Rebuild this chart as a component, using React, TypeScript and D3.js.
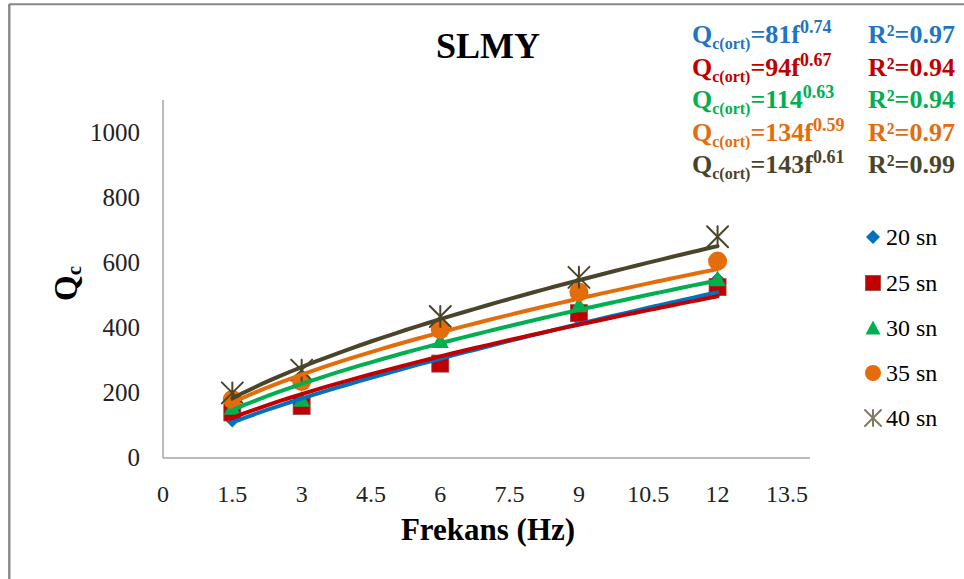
import React from "react";
import * as d3 from "d3";

const frequencies = [1.5, 3, 6, 9, 12];
const seriesNames = ["20 sn", "25 sn", "30 sn", "35 sn", "40 sn"];
const s20 = [115, 170, 285, 425, 550];
const s25 = [140, 160, 290, 445, 525];
const s30 = [155, 180, 360, 470, 550];
const s35 = [180, 235, 395, 510, 605];
const s40 = [200, 270, 435, 555, 680];
const seriesValues = [s20, s25, s30, s35, s40];
const fitCoef = [81, 94, 114, 134, 143];
const fitExp = [0.74, 0.67, 0.63, 0.59, 0.61];
const eqMain = ["=81f", "=94f", "=114", "=134f", "=143f"];
const eqExp = ["0.74", "0.67", "0.63", "0.59", "0.61"];
const r2Labels = ["R²=0.97", "R²=0.94", "R²=0.94", "R²=0.97", "R²=0.99"];
const xTicks = [0, 1.5, 3, 4.5, 6, 7.5, 9, 10.5, 12, 13.5];
const yTicks = [0, 200, 400, 600, 800, 1000];

const colors = ["#0070C0", "#C00000", "#00B050", "#E46C0A", "#4A452A"];
const textColors = ["#1F74C4", "#C00000", "#00B050", "#E46C0A", "#4A452A"];
const shapes = ["diamond", "square", "triangle", "circle", "star"];

const FONT = '"Liberation Serif", "DejaVu Serif", serif';

function Marker({ shape, x, y, color, s }: { shape: string; x: number; y: number; color: string; s: number }) {
  if (shape === "diamond") {
    const h = s / 2;
    return <path d={`M${x},${y - h}L${x + h},${y}L${x},${y + h}L${x - h},${y}Z`} fill={color} />;
  }
  if (shape === "square") {
    return <rect x={x - s / 2} y={y - s / 2} width={s} height={s} fill={color} stroke="#A04040" strokeWidth={0.8} />;
  }
  if (shape === "triangle") {
    const h = s / 2;
    return <path d={`M${x},${y - h}L${x + h},${y + h * 0.85}L${x - h},${y + h * 0.85}Z`} fill={color} />;
  }
  if (shape === "circle") {
    return <circle cx={x} cy={y} r={s / 2} fill={color} />;
  }
  const h = s / 2;
  return (
    <g stroke={color} strokeWidth={2} strokeLinecap="round">
      <line x1={x - h} y1={y - h} x2={x + h} y2={y + h} />
      <line x1={x - h} y1={y + h} x2={x + h} y2={y - h} />
      <line x1={x} y1={y - h} x2={x} y2={y + h} />
    </g>
  );
}

export default function App() {
  const W = 964;
  const H = 579;
  const x = d3.scaleLinear().domain([0, 14]).range([163, 810]);
  const y = d3.scaleLinear().domain([0, 1100]).range([458, 100]);

  const fitLine = d3
    .line<number>()
    .x((f) => x(f))
    .curve(d3.curveMonotoneX);

  const fGrid = d3.range(1.5, 12.0001, 0.25);

  const markerSizes = [14, 17, 17, 19, 21];
  const legendSizes = [14, 15, 15, 16, 16];
  const legendY = [237, 283, 328, 373, 418];
  const eqBase = [43, 75.5, 108, 140.5, 173];

  return (
    <div style={{ position: "absolute", left: 0, top: 0 }}>
      <svg width={W} height={H} style={{ display: "block", background: "#fff", fontFamily: FONT }}>
        <rect x={0} y={0} width={W} height={H} fill="#fff" />
        <line x1={9} y1={4.3} x2={W} y2={4.3} stroke="#888" strokeWidth={2} />
        <line x1={9.3} y1={4} x2={9.3} y2={H} stroke="#888" strokeWidth={2.4} />

        <text x={488} y={58} textAnchor="middle" fontSize={36} fontWeight="bold" fill="#000" style={{ fontFamily: FONT }}>
          SLMY
        </text>

        <line x1={x(0)} y1={y(1100)} x2={x(0)} y2={y(0)} stroke="#A6A6A6" strokeWidth={1.5} />
        <line x1={x(0)} y1={y(0)} x2={x(14)} y2={y(0)} stroke="#A6A6A6" strokeWidth={1.5} />

        {yTicks.map((t) => (
          <text key={t} x={140} y={y(t) + 8} textAnchor="end" fontSize={25} fill="#222" style={{ fontFamily: FONT }}>
            {t}
          </text>
        ))}
        {xTicks.map((t) => (
          <text key={t} x={x(t)} y={502} textAnchor="middle" fontSize={24} fill="#222" style={{ fontFamily: FONT }}>
            {t}
          </text>
        ))}

        <text x={488} y={540} textAnchor="middle" fontSize={31} fontWeight="bold" fill="#000" style={{ fontFamily: FONT }}>
          Frekans (Hz)
        </text>
        <text transform="translate(77,301) rotate(-90)" fontSize={33} fontWeight="bold" fill="#000" style={{ fontFamily: FONT }}>
          Q<tspan fontSize={21} dy={4}>c</tspan>
        </text>

        {seriesValues.map((vals, si) =>
          vals.map((v, i) => (
            <Marker key={`${si}-${i}`} shape={shapes[si]} x={x(frequencies[i])} y={y(v)} color={colors[si]} s={markerSizes[si]} />
          ))
        )}

        {fitCoef.map((a, si) => (
          <path
            key={`fit-${si}`}
            d={fitLine.y((f) => y(a * Math.pow(f, fitExp[si])))(fGrid) || ""}
            fill="none"
            stroke={colors[si]}
            strokeWidth={4}
            strokeLinecap="round"
          />
        ))}

        {seriesNames.map((n, si) => (
          <g key={n}>
            <Marker shape={shapes[si]} x={873} y={legendY[si]} color={si === 4 ? "#7F7A60" : colors[si]} s={legendSizes[si]} />
            <text x={886} y={legendY[si] + 8} fontSize={24} fill="#000" style={{ fontFamily: FONT }}>
              {n}
            </text>
          </g>
        ))}

        {eqMain.map((m, si) => (
          <g key={`eq-${si}`} fill={textColors[si]} fontWeight="bold">
            <text x={692} y={eqBase[si]} fontSize={26} style={{ fontFamily: FONT }}>
              Q
              <tspan fontSize={16} dy={6}>
                c(ort)
              </tspan>
              <tspan fontSize={26} dy={-6}>
                {m}
              </tspan>
              <tspan fontSize={18} dy={-10}>
                {eqExp[si]}
              </tspan>
            </text>
            <text x={868} y={eqBase[si]} fontSize={26} style={{ fontFamily: FONT }}>
              {r2Labels[si]}
            </text>
          </g>
        ))}
      </svg>
    </div>
  );
}
